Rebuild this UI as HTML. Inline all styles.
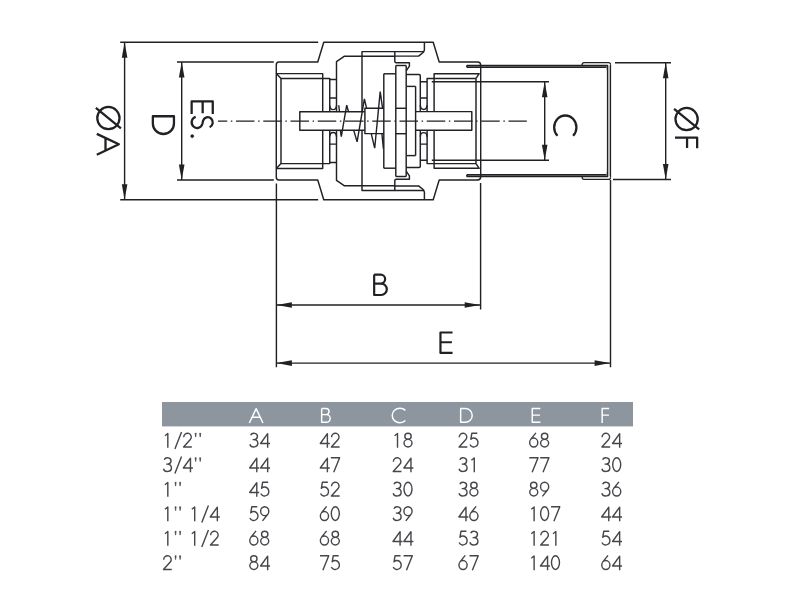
<!DOCTYPE html>
<html><head><meta charset="utf-8"><title>Valve dimensions</title>
<style>html,body{margin:0;padding:0;background:#fff;width:800px;height:600px;overflow:hidden;font-family:"Liberation Sans",sans-serif}</style></head>
<body>
<svg width="800" height="600" viewBox="0 0 800 600" style="position:absolute;left:0;top:0" stroke-linecap="butt" stroke-linejoin="round">
<rect width="800" height="600" fill="#ffffff"/>
<path d="M276.3,65 Q276.3,62 278.8,62 H317.75 L323.75,42.3 H433.2 L439.2,62 H477.6 Q480.7,62 480.7,65.2" fill="none" stroke="#202025" stroke-width="1.45" />
<path d="M276.3,177.0 Q276.3,180.0 278.8,180.0 H317.75 L323.75,199.7 H433.2 L439.2,180.0 H477.6 Q480.7,180.0 480.7,176.8" fill="none" stroke="#202025" stroke-width="1.45" />
<path d="M276.3,65 V177" fill="none" stroke="#202025" stroke-width="1.45" />
<path d="M480.7,65 V177" fill="none" stroke="#202025" stroke-width="1.45" />
<path d="M276.3,73.6 H322.7 V111.7" fill="none" stroke="#202025" stroke-width="1.45" />
<path d="M276.3,73.6 L281,78.4 H329.75 V111.7" fill="none" stroke="#202025" stroke-width="1.45" />
<path d="M329.75,79.5 H336.5 M329.75,97.9 H336.5" fill="none" stroke="#202025" stroke-width="1.45" />
<path d="M329.75,105.5 Q329.9,109.6 333.1,109.6 Q336.35,109.6 336.5,105.5" fill="none" stroke="#202025" stroke-width="1.45" />
<path d="M276.3,168.4 H322.7 V130.3" fill="none" stroke="#202025" stroke-width="1.45" />
<path d="M276.3,168.4 L281,163.6 H329.75 V130.3" fill="none" stroke="#202025" stroke-width="1.45" />
<path d="M329.75,162.5 H336.5 M329.75,144.1 H336.5" fill="none" stroke="#202025" stroke-width="1.45" />
<path d="M329.75,136.5 Q329.9,132.4 333.1,132.4 Q336.35,132.4 336.5,136.5" fill="none" stroke="#202025" stroke-width="1.45" />
<path d="M281,78.4 V163.6" fill="none" stroke="#202025" stroke-width="1.45" />
<path d="M336.5,111.7 V61.6 L344.5,56.2 H394.8" fill="none" stroke="#202025" stroke-width="1.45" />
<path d="M362,111.7 V51.6 H422.6 Q424.4,51.6 424.4,50 V42.3" fill="none" stroke="#202025" stroke-width="1.45" />
<path d="M424,51.8 L418.6,56.1 H394.8" fill="none" stroke="#202025" stroke-width="1.45" />
<path d="M394.8,51.6 V61.3 Q394.8,62.8 396.3,62.8 H409.4 V66.2 L406.4,70.6" fill="none" stroke="#202025" stroke-width="1.45" />
<path d="M395.8,65.5 H406.2" fill="none" stroke="#202025" stroke-width="1.45" />
<path d="M383.8,73.8 H395.8" fill="none" stroke="#202025" stroke-width="1.45" />
<path d="M406.2,74.5 H419.1 Q420.3,74.5 420.3,75.7 V111.7" fill="none" stroke="#202025" stroke-width="1.45" />
<path d="M406.8,86.4 H415.6" fill="none" stroke="#202025" stroke-width="1.45" />
<path d="M395.8,108.3 H406.2" fill="none" stroke="#202025" stroke-width="1.45" />
<path d="M420.3,81.7 H427.1 M420.3,97.9 H427.1" fill="none" stroke="#202025" stroke-width="1.45" />
<path d="M420.3,105.3 Q420.45,109.4 423.7,109.4 Q426.95,109.4 427.1,105.3" fill="none" stroke="#202025" stroke-width="1.45" />
<path d="M336.5,130.3 V180.4 L344.5,185.8 H394.8" fill="none" stroke="#202025" stroke-width="1.45" />
<path d="M362,130.3 V190.4 H422.6 Q424.4,190.4 424.4,192.0 V199.7" fill="none" stroke="#202025" stroke-width="1.45" />
<path d="M424,190.2 L418.6,185.9 H394.8" fill="none" stroke="#202025" stroke-width="1.45" />
<path d="M394.8,190.4 V180.7 Q394.8,179.2 396.3,179.2 H409.4 V175.8 L406.4,171.4" fill="none" stroke="#202025" stroke-width="1.45" />
<path d="M395.8,176.5 H406.2" fill="none" stroke="#202025" stroke-width="1.45" />
<path d="M383.8,168.2 H395.8" fill="none" stroke="#202025" stroke-width="1.45" />
<path d="M406.2,167.5 H419.1 Q420.3,167.5 420.3,166.3 V130.3" fill="none" stroke="#202025" stroke-width="1.45" />
<path d="M406.8,155.6 H415.6" fill="none" stroke="#202025" stroke-width="1.45" />
<path d="M395.8,133.7 H406.2" fill="none" stroke="#202025" stroke-width="1.45" />
<path d="M420.3,160.3 H427.1 M420.3,144.1 H427.1" fill="none" stroke="#202025" stroke-width="1.45" />
<path d="M420.3,136.7 Q420.45,132.6 423.7,132.6 Q426.95,132.6 427.1,136.7" fill="none" stroke="#202025" stroke-width="1.45" />
<path d="M383.8,73.8 V168.2" fill="none" stroke="#202025" stroke-width="1.45" />
<path d="M395.8,65.5 V176.5" fill="none" stroke="#202025" stroke-width="1.45" />
<path d="M406.2,65.5 V176.5" fill="none" stroke="#202025" stroke-width="1.45" />
<path d="M415.6,86.4 V155.6" fill="none" stroke="#202025" stroke-width="1.45" />
<path d="M434.1,111.7 V73.7 H479.2 L476,78.4" fill="none" stroke="#202025" stroke-width="1.45" />
<path d="M427.1,111.7 V78.4 H476" fill="none" stroke="#202025" stroke-width="1.45" />
<path d="M607.5,70 V65.45 H467.3 Q466.2,66.3 467.3,67.15 H606.3" fill="none" stroke="#202025" stroke-width="1.5" />
<path d="M582,65.2 Q582.2,62.6 584,62.6 H608.5 Q610.5,62.6 610.5,64.6" fill="none" stroke="#202025" stroke-width="1.25" />
<path d="M434.1,130.3 V168.3 H479.2 L476,163.6" fill="none" stroke="#202025" stroke-width="1.45" />
<path d="M427.1,130.3 V163.6 H476" fill="none" stroke="#202025" stroke-width="1.45" />
<path d="M607.5,172.0 V176.55 H467.3 Q466.2,175.7 467.3,174.85 H606.3" fill="none" stroke="#202025" stroke-width="1.5" />
<path d="M582,176.8 Q582.2,179.4 584,179.4 H608.5 Q610.5,179.4 610.5,177.4" fill="none" stroke="#202025" stroke-width="1.25" />
<path d="M476,78.4 V163.6" fill="none" stroke="#202025" stroke-width="1.45" />
<rect x="607.5" y="66" width="3" height="110" fill="#c9c9cc"/>
<path d="M607.5,65.4 V176.6" fill="none" stroke="#202025" stroke-width="1.25" />
<path d="M610.5,64.5 V177.5" fill="none" stroke="#202025" stroke-width="1.25" />
<path d="M364.7,111.7 H299.8 V130.3 H364.7" fill="none" stroke="#202025" stroke-width="1.45" />
<path d="M415.6,111.6 H471.8 V130.3 H415.6" fill="none" stroke="#202025" stroke-width="1.45" />
<path d="M383.8,108.3 H364.9 V133.6 H383.8" fill="none" stroke="#202025" stroke-width="1.45" />
<path d="M338.8,105.3 L339.4,111.3 M340.4,130.6 L341.3,136.6 L346.7,105.2 L348.5,111.7 M353.8,130.6 L357.1,141.8 L364.4,98.8 L366.6,108.3 M371.3,133.8 L374.7,148.2 L380.2,91.6 L382.6,108.3 M381.9,133.8 L383.4,148.6" fill="none" stroke="#202025" stroke-width="1.4" stroke-linejoin="miter"/>
<path d="M218,121.2 H526.8" stroke="#202025" stroke-width="1.2" stroke-dasharray="18.5 3.65 1.45 3.65" stroke-dashoffset="9.26" fill="none"/>
<path d="M120.2,42.2 H318.2 M120.2,199.8 H318.2" fill="none" stroke="#202025" stroke-width="1.42" />
<path d="M124.6,42.2 V199.8" fill="none" stroke="#202025" stroke-width="1.42" />
<path d="M124.60,42.20 L127.40,57.70 L121.80,57.70 Z" fill="#202025" stroke="none"/>
<path d="M124.60,199.80 L121.80,184.30 L127.40,184.30 Z" fill="#202025" stroke="none"/>
<path d="M177,62 H273.8 M177,180 H273.8" fill="none" stroke="#202025" stroke-width="1.42" />
<path d="M181.7,62 V180" fill="none" stroke="#202025" stroke-width="1.42" />
<path d="M181.70,62.00 L184.50,77.50 L178.90,77.50 Z" fill="#202025" stroke="none"/>
<path d="M181.70,180.00 L178.90,164.50 L184.50,164.50 Z" fill="#202025" stroke="none"/>
<path d="M431.8,81.7 H549 M431.8,160.3 H549" fill="none" stroke="#202025" stroke-width="1.42" />
<path d="M544.7,81.7 V160.3" fill="none" stroke="#202025" stroke-width="1.42" />
<path d="M544.70,81.70 L547.50,97.20 L541.90,97.20 Z" fill="#202025" stroke="none"/>
<path d="M544.70,160.30 L541.90,144.80 L547.50,144.80 Z" fill="#202025" stroke="none"/>
<path d="M615,62.7 H671 M613,179.5 H671" fill="none" stroke="#202025" stroke-width="1.42" />
<path d="M665.7,62.7 V179.5" fill="none" stroke="#202025" stroke-width="1.42" />
<path d="M665.70,62.70 L668.50,78.20 L662.90,78.20 Z" fill="#202025" stroke="none"/>
<path d="M665.70,179.50 L662.90,164.00 L668.50,164.00 Z" fill="#202025" stroke="none"/>
<path d="M276.4,183.5 V367.2 M480.6,183 V309.6 M610.5,180 V367.2" fill="none" stroke="#202025" stroke-width="1.42" />
<path d="M276.4,305 H480.6" fill="none" stroke="#202025" stroke-width="1.42" />
<path d="M276.40,305.00 L291.90,302.20 L291.90,307.80 Z" fill="#202025" stroke="none"/>
<path d="M480.20,305.00 L464.70,307.80 L464.70,302.20 Z" fill="#202025" stroke="none"/>
<path d="M276.4,363.1 H610.5" fill="none" stroke="#202025" stroke-width="1.42" />
<path d="M276.40,363.10 L291.90,360.30 L291.90,365.90 Z" fill="#202025" stroke="none"/>
<path d="M610.10,363.10 L594.60,365.90 L594.60,360.30 Z" fill="#202025" stroke="none"/>
<g transform="translate(120.00,104.60) rotate(90) scale(0.2320)" fill="none" stroke="#202025" stroke-width="9.80" stroke-linejoin="round" ><path transform="translate(0.00,0)" d="M58,2 A48,48 0 1 1 58,98 A48,48 0 1 1 58,2 Z M14,104 L102,-4"/></g>
<g transform="translate(120.00,132.70) rotate(90) scale(0.2320)" fill="none" stroke="#202025" stroke-width="9.80" stroke-linejoin="round" ><path transform="translate(0.00,0)" d="M5,100 L50,5 L95,100 M23,62.5 H77"/></g>
<g transform="translate(175.00,113.70) rotate(90) scale(0.2320)" fill="none" stroke="#202025" stroke-width="9.80" stroke-linejoin="round" ><path transform="translate(0.00,0)" d="M11,4.5 V95.5 H42 A45.5,45.5 0 0 0 42,4.5 Z"/></g>
<g transform="translate(213.80,98.90) rotate(90) scale(0.2320)" fill="none" stroke="#202025" stroke-width="9.80" stroke-linejoin="round" ><path transform="translate(0.00,0)" d="M65,4.5 H11 V95.5 H65 M11,48 H62"/></g>
<g transform="translate(213.80,114.50) rotate(90) scale(0.2320)" fill="none" stroke="#202025" stroke-width="9.80" stroke-linejoin="round" ><path transform="translate(0.00,0)" d="M55,18 A22.5,21.5 0 1 0 27.5,46.5 L41,49.5 A24.5,23.5 0 1 1 10,78"/></g>
<g transform="translate(213.80,132.90) rotate(90) scale(0.2320)" fill="none" stroke="#202025" stroke-width="14.00" stroke-linejoin="round" ><path transform="translate(0.00,0)" d="M14,86 a7,7 0 1 0 0.01,0 Z" stroke-width="1.5" fill="#202025"/></g>
<g transform="translate(371.70,273.60) scale(0.2240)" fill="none" stroke="#202025" stroke-width="9.80" stroke-linejoin="round" ><path transform="translate(0.00,0)" d="M11,4.5 V95.5 H42 A25.5,25.5 0 0 0 42,44.5 H11 M11,4.5 H40 A20,20 0 0 1 40,44.5"/></g>
<g transform="translate(438.00,331.50) scale(0.2240)" fill="none" stroke="#202025" stroke-width="9.80" stroke-linejoin="round" ><path transform="translate(0.00,0)" d="M65,4.5 H11 V95.5 H65 M11,48 H62"/></g>
<g transform="translate(576.90,114.40) rotate(90) scale(0.2320)" fill="none" stroke="#202025" stroke-width="9.80" stroke-linejoin="round" ><path transform="translate(0.00,0)" d="M92.3,16.5 A51,48 0 1 0 92.3,83.5"/></g>
<g transform="translate(698.20,105.60) rotate(90) scale(0.2320)" fill="none" stroke="#202025" stroke-width="9.80" stroke-linejoin="round" ><path transform="translate(0.00,0)" d="M58,2 A48,48 0 1 1 58,98 A48,48 0 1 1 58,2 Z M14,104 L102,-4"/></g>
<g transform="translate(698.20,135.00) rotate(90) scale(0.2320)" fill="none" stroke="#202025" stroke-width="9.80" stroke-linejoin="round" ><path transform="translate(0.00,0)" d="M57,4.5 H11 V100 M11,48 H56"/></g>
<rect x="162" y="402" width="471" height="24.4" fill="#8d969e"/>
<g transform="translate(248.60,407.90) scale(0.1510)" fill="none" stroke="#ffffff" stroke-width="9.60" stroke-linejoin="round" ><path transform="translate(0.00,0)" d="M5,100 L50,5 L95,100 M23,62.5 H77"/></g>
<g transform="translate(320.00,407.90) scale(0.1510)" fill="none" stroke="#ffffff" stroke-width="9.60" stroke-linejoin="round" ><path transform="translate(0.00,0)" d="M11,4.5 V95.5 H42 A25.5,25.5 0 0 0 42,44.5 H11 M11,4.5 H40 A20,20 0 0 1 40,44.5"/></g>
<g transform="translate(391.50,407.90) scale(0.1510)" fill="none" stroke="#ffffff" stroke-width="9.60" stroke-linejoin="round" ><path transform="translate(0.00,0)" d="M92.3,16.5 A51,48 0 1 0 92.3,83.5"/></g>
<g transform="translate(459.00,407.90) scale(0.1510)" fill="none" stroke="#ffffff" stroke-width="9.60" stroke-linejoin="round" ><path transform="translate(0.00,0)" d="M11,4.5 V95.5 H42 A45.5,45.5 0 0 0 42,4.5 Z"/></g>
<g transform="translate(530.60,407.90) scale(0.1510)" fill="none" stroke="#ffffff" stroke-width="9.60" stroke-linejoin="round" ><path transform="translate(0.00,0)" d="M65,4.5 H11 V95.5 H65 M11,48 H62"/></g>
<g transform="translate(600.50,407.90) scale(0.1510)" fill="none" stroke="#ffffff" stroke-width="9.60" stroke-linejoin="round" ><path transform="translate(0.00,0)" d="M57,4.5 H11 V100 M11,48 H56"/></g>
<g transform="translate(162.00,432.55) scale(0.1510)" fill="none" stroke="#45454a" stroke-width="9.30" stroke-linejoin="round" ><path transform="translate(-1.50,0)" d="M21,21 L40,6.5 V100"/><path transform="translate(70.50,0)" d="M15,109 L59,-4"/><path transform="translate(131.50,0)" d="M12.5,31 A25,25 0 1 1 56.1,46.2 L11.5,95.5 H66"/><path transform="translate(203.50,0)" d="M15.5,5 H23.5 L19.5,30 Z M45.5,5 H53.5 L49.5,30 Z" stroke-width="4.5" fill="#45454a"/></g>
<g transform="translate(248.40,432.55) scale(0.1510)" fill="none" stroke="#45454a" stroke-width="9.30" stroke-linejoin="round" ><path transform="translate(-1.50,0)" d="M16,17.5 A23.5,21.25 0 1 1 37,47 H29 M37,47 A27,24.25 0 1 1 11,78"/><path transform="translate(70.50,0)" d="M57,100 V7 L10,72.5 H73"/></g>
<g transform="translate(319.00,432.55) scale(0.1510)" fill="none" stroke="#45454a" stroke-width="9.30" stroke-linejoin="round" ><path transform="translate(-1.50,0)" d="M57,100 V7 L10,72.5 H73"/><path transform="translate(70.50,0)" d="M12.5,31 A25,25 0 1 1 56.1,46.2 L11.5,95.5 H66"/></g>
<g transform="translate(391.70,432.55) scale(0.1510)" fill="none" stroke="#45454a" stroke-width="9.30" stroke-linejoin="round" ><path transform="translate(-1.50,0)" d="M21,21 L40,6.5 V100"/><path transform="translate(70.50,0)" d="M37.5,4.5 A21,20 0 1 1 37.5,44.5 A21,20 0 1 1 37.5,4.5 Z M37.5,44.5 A26.5,25.5 0 1 1 37.5,95.5 A26.5,25.5 0 1 1 37.5,44.5 Z"/></g>
<g transform="translate(457.60,432.55) scale(0.1510)" fill="none" stroke="#45454a" stroke-width="9.30" stroke-linejoin="round" ><path transform="translate(-1.50,0)" d="M12.5,31 A25,25 0 1 1 56.1,46.2 L11.5,95.5 H66"/><path transform="translate(70.50,0)" d="M60,4.5 H24 L17,45 A28,29.5 0 1 1 11.5,79"/></g>
<g transform="translate(528.30,432.55) scale(0.1510)" fill="none" stroke="#45454a" stroke-width="9.30" stroke-linejoin="round" ><path transform="translate(-1.50,0)" d="M52,2 L16,47 M37.5,36.5 A27,29.5 0 1 1 37.5,95.5 A27,29.5 0 1 1 37.5,36.5 Z"/><path transform="translate(70.50,0)" d="M37.5,4.5 A21,20 0 1 1 37.5,44.5 A21,20 0 1 1 37.5,4.5 Z M37.5,44.5 A26.5,25.5 0 1 1 37.5,95.5 A26.5,25.5 0 1 1 37.5,44.5 Z"/></g>
<g transform="translate(600.40,432.55) scale(0.1510)" fill="none" stroke="#45454a" stroke-width="9.30" stroke-linejoin="round" ><path transform="translate(-1.50,0)" d="M12.5,31 A25,25 0 1 1 56.1,46.2 L11.5,95.5 H66"/><path transform="translate(70.50,0)" d="M57,100 V7 L10,72.5 H73"/></g>
<g transform="translate(162.00,457.05) scale(0.1510)" fill="none" stroke="#45454a" stroke-width="9.30" stroke-linejoin="round" ><path transform="translate(-1.50,0)" d="M16,17.5 A23.5,21.25 0 1 1 37,47 H29 M37,47 A27,24.25 0 1 1 11,78"/><path transform="translate(70.50,0)" d="M15,109 L59,-4"/><path transform="translate(131.50,0)" d="M57,100 V7 L10,72.5 H73"/><path transform="translate(203.50,0)" d="M15.5,5 H23.5 L19.5,30 Z M45.5,5 H53.5 L49.5,30 Z" stroke-width="4.5" fill="#45454a"/></g>
<g transform="translate(248.40,457.05) scale(0.1510)" fill="none" stroke="#45454a" stroke-width="9.30" stroke-linejoin="round" ><path transform="translate(-1.50,0)" d="M57,100 V7 L10,72.5 H73"/><path transform="translate(70.50,0)" d="M57,100 V7 L10,72.5 H73"/></g>
<g transform="translate(319.00,457.05) scale(0.1510)" fill="none" stroke="#45454a" stroke-width="9.30" stroke-linejoin="round" ><path transform="translate(-1.50,0)" d="M57,100 V7 L10,72.5 H73"/><path transform="translate(70.50,0)" d="M8,4.5 H66 L27,100"/></g>
<g transform="translate(391.70,457.05) scale(0.1510)" fill="none" stroke="#45454a" stroke-width="9.30" stroke-linejoin="round" ><path transform="translate(-1.50,0)" d="M12.5,31 A25,25 0 1 1 56.1,46.2 L11.5,95.5 H66"/><path transform="translate(70.50,0)" d="M57,100 V7 L10,72.5 H73"/></g>
<g transform="translate(457.60,457.05) scale(0.1510)" fill="none" stroke="#45454a" stroke-width="9.30" stroke-linejoin="round" ><path transform="translate(-1.50,0)" d="M16,17.5 A23.5,21.25 0 1 1 37,47 H29 M37,47 A27,24.25 0 1 1 11,78"/><path transform="translate(70.50,0)" d="M21,21 L40,6.5 V100"/></g>
<g transform="translate(528.30,457.05) scale(0.1510)" fill="none" stroke="#45454a" stroke-width="9.30" stroke-linejoin="round" ><path transform="translate(-1.50,0)" d="M8,4.5 H66 L27,100"/><path transform="translate(70.50,0)" d="M8,4.5 H66 L27,100"/></g>
<g transform="translate(600.40,457.05) scale(0.1510)" fill="none" stroke="#45454a" stroke-width="9.30" stroke-linejoin="round" ><path transform="translate(-1.50,0)" d="M16,17.5 A23.5,21.25 0 1 1 37,47 H29 M37,47 A27,24.25 0 1 1 11,78"/><path transform="translate(70.50,0)" d="M37.5,4.5 A26.5,45.5 0 1 1 37.5,95.5 A26.5,45.5 0 1 1 37.5,4.5 Z"/></g>
<g transform="translate(162.00,481.55) scale(0.1510)" fill="none" stroke="#45454a" stroke-width="9.30" stroke-linejoin="round" ><path transform="translate(-1.50,0)" d="M21,21 L40,6.5 V100"/><path transform="translate(70.50,0)" d="M15.5,5 H23.5 L19.5,30 Z M45.5,5 H53.5 L49.5,30 Z" stroke-width="4.5" fill="#45454a"/></g>
<g transform="translate(248.40,481.55) scale(0.1510)" fill="none" stroke="#45454a" stroke-width="9.30" stroke-linejoin="round" ><path transform="translate(-1.50,0)" d="M57,100 V7 L10,72.5 H73"/><path transform="translate(70.50,0)" d="M60,4.5 H24 L17,45 A28,29.5 0 1 1 11.5,79"/></g>
<g transform="translate(319.00,481.55) scale(0.1510)" fill="none" stroke="#45454a" stroke-width="9.30" stroke-linejoin="round" ><path transform="translate(-1.50,0)" d="M60,4.5 H24 L17,45 A28,29.5 0 1 1 11.5,79"/><path transform="translate(70.50,0)" d="M12.5,31 A25,25 0 1 1 56.1,46.2 L11.5,95.5 H66"/></g>
<g transform="translate(391.70,481.55) scale(0.1510)" fill="none" stroke="#45454a" stroke-width="9.30" stroke-linejoin="round" ><path transform="translate(-1.50,0)" d="M16,17.5 A23.5,21.25 0 1 1 37,47 H29 M37,47 A27,24.25 0 1 1 11,78"/><path transform="translate(70.50,0)" d="M37.5,4.5 A26.5,45.5 0 1 1 37.5,95.5 A26.5,45.5 0 1 1 37.5,4.5 Z"/></g>
<g transform="translate(457.60,481.55) scale(0.1510)" fill="none" stroke="#45454a" stroke-width="9.30" stroke-linejoin="round" ><path transform="translate(-1.50,0)" d="M16,17.5 A23.5,21.25 0 1 1 37,47 H29 M37,47 A27,24.25 0 1 1 11,78"/><path transform="translate(70.50,0)" d="M37.5,4.5 A21,20 0 1 1 37.5,44.5 A21,20 0 1 1 37.5,4.5 Z M37.5,44.5 A26.5,25.5 0 1 1 37.5,95.5 A26.5,25.5 0 1 1 37.5,44.5 Z"/></g>
<g transform="translate(528.30,481.55) scale(0.1510)" fill="none" stroke="#45454a" stroke-width="9.30" stroke-linejoin="round" ><path transform="translate(-1.50,0)" d="M37.5,4.5 A21,20 0 1 1 37.5,44.5 A21,20 0 1 1 37.5,4.5 Z M37.5,44.5 A26.5,25.5 0 1 1 37.5,95.5 A26.5,25.5 0 1 1 37.5,44.5 Z"/><path transform="translate(70.50,0)" d="M23,98 L59,53 M37.5,4.5 A27,29.5 0 1 1 37.5,63.5 A27,29.5 0 1 1 37.5,4.5 Z"/></g>
<g transform="translate(600.40,481.55) scale(0.1510)" fill="none" stroke="#45454a" stroke-width="9.30" stroke-linejoin="round" ><path transform="translate(-1.50,0)" d="M16,17.5 A23.5,21.25 0 1 1 37,47 H29 M37,47 A27,24.25 0 1 1 11,78"/><path transform="translate(70.50,0)" d="M52,2 L16,47 M37.5,36.5 A27,29.5 0 1 1 37.5,95.5 A27,29.5 0 1 1 37.5,36.5 Z"/></g>
<g transform="translate(162.00,506.05) scale(0.1510)" fill="none" stroke="#45454a" stroke-width="9.30" stroke-linejoin="round" ><path transform="translate(-1.50,0)" d="M21,21 L40,6.5 V100"/><path transform="translate(70.50,0)" d="M15.5,5 H23.5 L19.5,30 Z M45.5,5 H53.5 L49.5,30 Z" stroke-width="4.5" fill="#45454a"/><path transform="translate(176.50,0)" d="M21,21 L40,6.5 V100"/><path transform="translate(248.50,0)" d="M15,109 L59,-4"/><path transform="translate(309.50,0)" d="M57,100 V7 L10,72.5 H73"/></g>
<g transform="translate(248.40,506.05) scale(0.1510)" fill="none" stroke="#45454a" stroke-width="9.30" stroke-linejoin="round" ><path transform="translate(-1.50,0)" d="M60,4.5 H24 L17,45 A28,29.5 0 1 1 11.5,79"/><path transform="translate(70.50,0)" d="M23,98 L59,53 M37.5,4.5 A27,29.5 0 1 1 37.5,63.5 A27,29.5 0 1 1 37.5,4.5 Z"/></g>
<g transform="translate(319.00,506.05) scale(0.1510)" fill="none" stroke="#45454a" stroke-width="9.30" stroke-linejoin="round" ><path transform="translate(-1.50,0)" d="M52,2 L16,47 M37.5,36.5 A27,29.5 0 1 1 37.5,95.5 A27,29.5 0 1 1 37.5,36.5 Z"/><path transform="translate(70.50,0)" d="M37.5,4.5 A26.5,45.5 0 1 1 37.5,95.5 A26.5,45.5 0 1 1 37.5,4.5 Z"/></g>
<g transform="translate(391.70,506.05) scale(0.1510)" fill="none" stroke="#45454a" stroke-width="9.30" stroke-linejoin="round" ><path transform="translate(-1.50,0)" d="M16,17.5 A23.5,21.25 0 1 1 37,47 H29 M37,47 A27,24.25 0 1 1 11,78"/><path transform="translate(70.50,0)" d="M23,98 L59,53 M37.5,4.5 A27,29.5 0 1 1 37.5,63.5 A27,29.5 0 1 1 37.5,4.5 Z"/></g>
<g transform="translate(457.60,506.05) scale(0.1510)" fill="none" stroke="#45454a" stroke-width="9.30" stroke-linejoin="round" ><path transform="translate(-1.50,0)" d="M57,100 V7 L10,72.5 H73"/><path transform="translate(70.50,0)" d="M52,2 L16,47 M37.5,36.5 A27,29.5 0 1 1 37.5,95.5 A27,29.5 0 1 1 37.5,36.5 Z"/></g>
<g transform="translate(528.30,506.05) scale(0.1510)" fill="none" stroke="#45454a" stroke-width="9.30" stroke-linejoin="round" ><path transform="translate(-1.50,0)" d="M21,21 L40,6.5 V100"/><path transform="translate(70.50,0)" d="M37.5,4.5 A26.5,45.5 0 1 1 37.5,95.5 A26.5,45.5 0 1 1 37.5,4.5 Z"/><path transform="translate(142.50,0)" d="M8,4.5 H66 L27,100"/></g>
<g transform="translate(600.40,506.05) scale(0.1510)" fill="none" stroke="#45454a" stroke-width="9.30" stroke-linejoin="round" ><path transform="translate(-1.50,0)" d="M57,100 V7 L10,72.5 H73"/><path transform="translate(70.50,0)" d="M57,100 V7 L10,72.5 H73"/></g>
<g transform="translate(162.00,530.55) scale(0.1510)" fill="none" stroke="#45454a" stroke-width="9.30" stroke-linejoin="round" ><path transform="translate(-1.50,0)" d="M21,21 L40,6.5 V100"/><path transform="translate(70.50,0)" d="M15.5,5 H23.5 L19.5,30 Z M45.5,5 H53.5 L49.5,30 Z" stroke-width="4.5" fill="#45454a"/><path transform="translate(176.50,0)" d="M21,21 L40,6.5 V100"/><path transform="translate(248.50,0)" d="M15,109 L59,-4"/><path transform="translate(309.50,0)" d="M12.5,31 A25,25 0 1 1 56.1,46.2 L11.5,95.5 H66"/></g>
<g transform="translate(248.40,530.55) scale(0.1510)" fill="none" stroke="#45454a" stroke-width="9.30" stroke-linejoin="round" ><path transform="translate(-1.50,0)" d="M52,2 L16,47 M37.5,36.5 A27,29.5 0 1 1 37.5,95.5 A27,29.5 0 1 1 37.5,36.5 Z"/><path transform="translate(70.50,0)" d="M37.5,4.5 A21,20 0 1 1 37.5,44.5 A21,20 0 1 1 37.5,4.5 Z M37.5,44.5 A26.5,25.5 0 1 1 37.5,95.5 A26.5,25.5 0 1 1 37.5,44.5 Z"/></g>
<g transform="translate(319.00,530.55) scale(0.1510)" fill="none" stroke="#45454a" stroke-width="9.30" stroke-linejoin="round" ><path transform="translate(-1.50,0)" d="M52,2 L16,47 M37.5,36.5 A27,29.5 0 1 1 37.5,95.5 A27,29.5 0 1 1 37.5,36.5 Z"/><path transform="translate(70.50,0)" d="M37.5,4.5 A21,20 0 1 1 37.5,44.5 A21,20 0 1 1 37.5,4.5 Z M37.5,44.5 A26.5,25.5 0 1 1 37.5,95.5 A26.5,25.5 0 1 1 37.5,44.5 Z"/></g>
<g transform="translate(391.70,530.55) scale(0.1510)" fill="none" stroke="#45454a" stroke-width="9.30" stroke-linejoin="round" ><path transform="translate(-1.50,0)" d="M57,100 V7 L10,72.5 H73"/><path transform="translate(70.50,0)" d="M57,100 V7 L10,72.5 H73"/></g>
<g transform="translate(457.60,530.55) scale(0.1510)" fill="none" stroke="#45454a" stroke-width="9.30" stroke-linejoin="round" ><path transform="translate(-1.50,0)" d="M60,4.5 H24 L17,45 A28,29.5 0 1 1 11.5,79"/><path transform="translate(70.50,0)" d="M16,17.5 A23.5,21.25 0 1 1 37,47 H29 M37,47 A27,24.25 0 1 1 11,78"/></g>
<g transform="translate(528.30,530.55) scale(0.1510)" fill="none" stroke="#45454a" stroke-width="9.30" stroke-linejoin="round" ><path transform="translate(-1.50,0)" d="M21,21 L40,6.5 V100"/><path transform="translate(70.50,0)" d="M12.5,31 A25,25 0 1 1 56.1,46.2 L11.5,95.5 H66"/><path transform="translate(142.50,0)" d="M21,21 L40,6.5 V100"/></g>
<g transform="translate(600.40,530.55) scale(0.1510)" fill="none" stroke="#45454a" stroke-width="9.30" stroke-linejoin="round" ><path transform="translate(-1.50,0)" d="M60,4.5 H24 L17,45 A28,29.5 0 1 1 11.5,79"/><path transform="translate(70.50,0)" d="M57,100 V7 L10,72.5 H73"/></g>
<g transform="translate(162.00,555.05) scale(0.1510)" fill="none" stroke="#45454a" stroke-width="9.30" stroke-linejoin="round" ><path transform="translate(-1.50,0)" d="M12.5,31 A25,25 0 1 1 56.1,46.2 L11.5,95.5 H66"/><path transform="translate(70.50,0)" d="M15.5,5 H23.5 L19.5,30 Z M45.5,5 H53.5 L49.5,30 Z" stroke-width="4.5" fill="#45454a"/></g>
<g transform="translate(248.40,555.05) scale(0.1510)" fill="none" stroke="#45454a" stroke-width="9.30" stroke-linejoin="round" ><path transform="translate(-1.50,0)" d="M37.5,4.5 A21,20 0 1 1 37.5,44.5 A21,20 0 1 1 37.5,4.5 Z M37.5,44.5 A26.5,25.5 0 1 1 37.5,95.5 A26.5,25.5 0 1 1 37.5,44.5 Z"/><path transform="translate(70.50,0)" d="M57,100 V7 L10,72.5 H73"/></g>
<g transform="translate(319.00,555.05) scale(0.1510)" fill="none" stroke="#45454a" stroke-width="9.30" stroke-linejoin="round" ><path transform="translate(-1.50,0)" d="M8,4.5 H66 L27,100"/><path transform="translate(70.50,0)" d="M60,4.5 H24 L17,45 A28,29.5 0 1 1 11.5,79"/></g>
<g transform="translate(391.70,555.05) scale(0.1510)" fill="none" stroke="#45454a" stroke-width="9.30" stroke-linejoin="round" ><path transform="translate(-1.50,0)" d="M60,4.5 H24 L17,45 A28,29.5 0 1 1 11.5,79"/><path transform="translate(70.50,0)" d="M8,4.5 H66 L27,100"/></g>
<g transform="translate(457.60,555.05) scale(0.1510)" fill="none" stroke="#45454a" stroke-width="9.30" stroke-linejoin="round" ><path transform="translate(-1.50,0)" d="M52,2 L16,47 M37.5,36.5 A27,29.5 0 1 1 37.5,95.5 A27,29.5 0 1 1 37.5,36.5 Z"/><path transform="translate(70.50,0)" d="M8,4.5 H66 L27,100"/></g>
<g transform="translate(528.30,555.05) scale(0.1510)" fill="none" stroke="#45454a" stroke-width="9.30" stroke-linejoin="round" ><path transform="translate(-1.50,0)" d="M21,21 L40,6.5 V100"/><path transform="translate(70.50,0)" d="M57,100 V7 L10,72.5 H73"/><path transform="translate(142.50,0)" d="M37.5,4.5 A26.5,45.5 0 1 1 37.5,95.5 A26.5,45.5 0 1 1 37.5,4.5 Z"/></g>
<g transform="translate(600.40,555.05) scale(0.1510)" fill="none" stroke="#45454a" stroke-width="9.30" stroke-linejoin="round" ><path transform="translate(-1.50,0)" d="M52,2 L16,47 M37.5,36.5 A27,29.5 0 1 1 37.5,95.5 A27,29.5 0 1 1 37.5,36.5 Z"/><path transform="translate(70.50,0)" d="M57,100 V7 L10,72.5 H73"/></g>
</svg>
</body></html>
